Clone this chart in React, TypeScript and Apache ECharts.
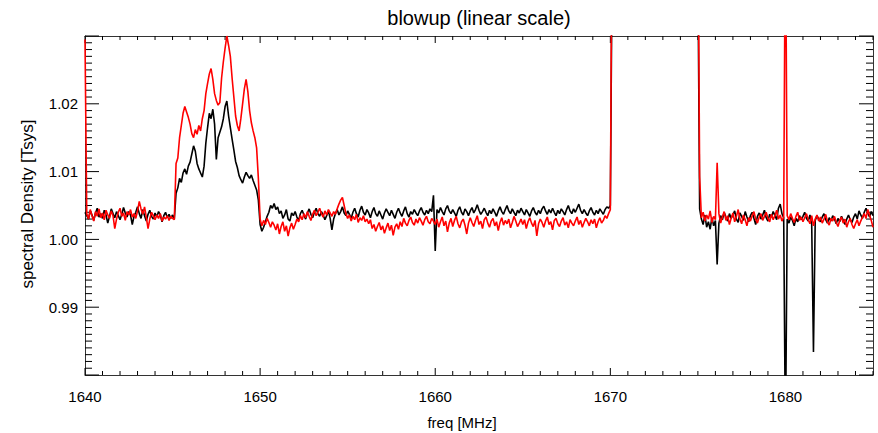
import React, { useEffect, useRef } from "react";
import * as echarts from "echarts";

// Channel grid (MHz)
const chanWidth = 0.1;
const segAStart = 1640.0; // 1640.0 .. 1670.1
const segBStart = 1675.0; // 1675.0 .. 1685.0
const gapFreq = 1672.5;

const xMin = 1640;
const xMax = 1685;
const yMin = 0.98;
const yMax = 1.03;
const xTickLabels = [1640, 1650, 1660, 1670, 1680];
const yTickLabels = [0.99, 1.0, 1.01, 1.02];

// black spectrum, segment A (rows = 1 MHz)
const blackA = [
  1.0040, 1.0035, 1.0030, 1.0042, 1.0036, 1.0028, 1.0039, 1.0046, 1.0033, 1.0038,
  1.0031, 1.0043, 1.0036, 1.0024, 1.0034, 1.0045, 1.0038, 1.0032, 1.0041, 1.0035,
  1.0029, 1.0037, 1.0047, 1.0039, 1.0033, 1.0041, 1.0036, 1.0022, 1.0034, 1.0040,
  1.0048, 1.0038, 1.0031, 1.0044, 1.0035, 1.0027, 1.0037, 1.0043, 1.0034, 1.0030,
  1.0039, 1.0033, 1.0041, 1.0036, 1.0026, 1.0035, 1.0040, 1.0032, 1.0037, 1.0031,
  1.0036, 1.0030, 1.0068, 1.0076, 1.0090, 1.0084, 1.0098, 1.0104, 1.0096, 1.0108,
  1.0114, 1.0126, 1.0138, 1.0130, 1.0112, 1.0104, 1.0098, 1.0092, 1.0108, 1.0142,
  1.0165, 1.0186, 1.0178, 1.0192, 1.0170, 1.0118, 1.0150, 1.0158, 1.0166, 1.0178,
  1.0196, 1.0204, 1.0182, 1.0165, 1.0148, 1.0132, 1.0115, 1.0106, 1.0094, 1.0088,
  1.0083, 1.0092, 1.0099, 1.0094, 1.0090, 1.0095, 1.0087, 1.0080, 1.0073, 1.0058,
  1.0022, 1.0012, 1.0018, 1.0026, 1.0034, 1.0040, 1.0050, 1.0046, 1.0053, 1.0044,
  1.0048, 1.0038, 1.0042, 1.0031, 1.0036, 1.0044, 1.0030, 1.0027, 1.0039, 1.0035,
  1.0041, 1.0033, 1.0028, 1.0038, 1.0043, 1.0036, 1.0030, 1.0039, 1.0045, 1.0037,
  1.0032, 1.0040, 1.0046, 1.0038, 1.0034, 1.0041, 1.0036, 1.0029, 1.0035, 1.0042,
  1.0031, 1.0014, 1.0030, 1.0038, 1.0044, 1.0036, 1.0041, 1.0048, 1.0039, 1.0035,
  1.0042, 1.0037, 1.0031, 1.0040, 1.0046, 1.0038, 1.0033, 1.0043, 1.0049, 1.0040,
  1.0036, 1.0044, 1.0039, 1.0032, 1.0041, 1.0047, 1.0038, 1.0034, 1.0042, 1.0036,
  1.0030, 1.0039, 1.0045, 1.0040, 1.0035, 1.0043, 1.0037, 1.0031, 1.0040, 1.0046,
  1.0039, 1.0034, 1.0042, 1.0048, 1.0038, 1.0033, 1.0041, 1.0037, 1.0044, 1.0039,
  1.0035, 1.0042, 1.0047, 1.0040, 1.0036, 1.0043, 1.0038, 1.0045, 1.0041, 1.0065,
  0.9983, 1.0044, 1.0039, 1.0047, 1.0041, 1.0036, 1.0045, 1.0050, 1.0042, 1.0038,
  1.0044, 1.0039, 1.0034, 1.0043, 1.0048, 1.0040, 1.0036, 1.0045, 1.0041, 1.0035,
  1.0042, 1.0047, 1.0039, 1.0044, 1.0051, 1.0043, 1.0037, 1.0041, 1.0046, 1.0040,
  1.0035, 1.0043, 1.0038, 1.0045, 1.0040, 1.0034, 1.0042, 1.0048, 1.0041, 1.0037,
  1.0044, 1.0050, 1.0042, 1.0038, 1.0045, 1.0040, 1.0035, 1.0043, 1.0039, 1.0046,
  1.0041, 1.0036, 1.0044, 1.0039, 1.0034, 1.0042, 1.0047, 1.0040, 1.0036, 1.0043,
  1.0038, 1.0045, 1.0049, 1.0042, 1.0037, 1.0044, 1.0039, 1.0046, 1.0040, 1.0035,
  1.0043, 1.0038, 1.0045, 1.0041, 1.0036, 1.0044, 1.0050, 1.0042, 1.0038, 1.0045,
  1.0040, 1.0046, 1.0052, 1.0043, 1.0038, 1.0044, 1.0039, 1.0035, 1.0042, 1.0047,
  1.0040, 1.0036, 1.0043, 1.0038, 1.0045, 1.0041, 1.0037, 1.0044, 1.0048, 1.0046,
  1.0050, 1.0400,
];

// red spectrum, segment A
const redA = [
  1.0295, 1.0038, 1.0030, 1.0044, 1.0035, 1.0027, 1.0041, 1.0034, 1.0045, 1.0032,
  1.0039, 1.0029, 1.0043, 1.0036, 1.0031, 1.0042, 1.0035, 1.0016, 1.0030, 1.0040,
  1.0046, 1.0034, 1.0039, 1.0028, 1.0041, 1.0036, 1.0044, 1.0033, 1.0038, 1.0031,
  1.0042, 1.0056, 1.0045, 1.0037, 1.0048, 1.0033, 1.0016, 1.0030, 1.0040, 1.0035,
  1.0029, 1.0036, 1.0031, 1.0038, 1.0027, 1.0033, 1.0030, 1.0035, 1.0028, 1.0034,
  1.0031, 1.0029, 1.0112, 1.0120, 1.0150, 1.0168, 1.0186, 1.0196, 1.0188, 1.0180,
  1.0170, 1.0156, 1.0150, 1.0162, 1.0155, 1.0168, 1.0160, 1.0178, 1.0190, 1.0215,
  1.0230, 1.0244, 1.0252, 1.0236, 1.0215, 1.0205, 1.0198, 1.0202, 1.0238, 1.0262,
  1.0282, 1.0300, 1.0286, 1.0270, 1.0238, 1.0210, 1.0182, 1.0168, 1.0160, 1.0178,
  1.0200, 1.0222, 1.0236, 1.0218, 1.0190, 1.0172, 1.0160, 1.0150, 1.0135, 1.0090,
  1.0030, 1.0020, 1.0028, 1.0022, 1.0031, 1.0025, 1.0018, 1.0026, 1.0021, 1.0014,
  1.0023, 1.0008, 1.0019, 1.0026, 1.0012, 1.0020, 1.0005, 1.0017, 1.0024, 1.0015,
  1.0022, 1.0030, 1.0026, 1.0035, 1.0029, 1.0038, 1.0032, 1.0041, 1.0034, 1.0028,
  1.0037, 1.0043, 1.0035, 1.0040, 1.0046, 1.0038, 1.0033, 1.0042, 1.0036, 1.0044,
  1.0039, 1.0034, 1.0041, 1.0037, 1.0045, 1.0052, 1.0058, 1.0062, 1.0050, 1.0038,
  1.0031, 1.0036, 1.0027, 1.0034, 1.0029, 1.0037, 1.0025, 1.0032, 1.0028, 1.0035,
  1.0026, 1.0030, 1.0023, 1.0029, 1.0016, 1.0022, 1.0012, 1.0019, 1.0025, 1.0014,
  1.0020, 1.0009, 1.0017, 1.0024, 1.0013, 1.0021, 1.0006, 1.0018, 1.0023, 1.0015,
  1.0026, 1.0019, 1.0031, 1.0024, 1.0020, 1.0028, 1.0033, 1.0025, 1.0021, 1.0030,
  1.0024, 1.0032, 1.0027, 1.0021, 1.0029, 1.0034, 1.0026, 1.0023, 1.0031, 1.0027,
  1.0022, 1.0030, 1.0018, 1.0026, 1.0033, 1.0020, 1.0027, 1.0011, 1.0024, 1.0031,
  1.0019, 1.0028, 1.0034, 1.0023, 1.0017, 1.0026, 1.0030, 1.0021, 1.0008, 1.0024,
  1.0032, 1.0025, 1.0019, 1.0028, 1.0035, 1.0022, 1.0027, 1.0016, 1.0029, 1.0033,
  1.0024, 1.0018, 1.0027, 1.0031, 1.0020, 1.0026, 1.0013, 1.0025, 1.0032, 1.0021,
  1.0028, 1.0023, 1.0030, 1.0017, 1.0025, 1.0034, 1.0027, 1.0019, 1.0024, 1.0030,
  1.0022, 1.0029, 1.0016, 1.0026, 1.0032, 1.0024, 1.0019, 1.0028, 1.0005, 1.0023,
  1.0030, 1.0025, 1.0018, 1.0027, 1.0033, 1.0022, 1.0026, 1.0014, 1.0028, 1.0031,
  1.0023, 1.0019, 1.0027, 1.0032, 1.0021, 1.0026, 1.0017, 1.0029, 1.0024, 1.0020,
  1.0027, 1.0033, 1.0022, 1.0028, 1.0018, 1.0025, 1.0031, 1.0026, 1.0020, 1.0029,
  1.0023, 1.0030, 1.0017, 1.0026, 1.0032, 1.0024, 1.0028, 1.0035, 1.0031, 1.0038,
  1.0044, 1.0500,
];

// black spectrum, segment B
const blackB = [
  1.0400, 1.0045, 1.0030, 1.0022, 1.0036, 1.0018, 1.0026, 1.0015, 1.0032, 1.0020,
  1.0028, 0.9963, 1.0024, 1.0035, 1.0029, 1.0040, 1.0033, 1.0027, 1.0038, 1.0031,
  1.0036, 1.0042, 1.0030, 1.0025, 1.0039, 1.0034, 1.0028, 1.0041, 1.0033, 1.0026,
  1.0035, 1.0040, 1.0031, 1.0022, 1.0034, 1.0039, 1.0030, 1.0036, 1.0043, 1.0032,
  1.0027, 1.0037, 1.0033, 1.0041, 1.0035, 1.0029, 1.0046, 1.0052, 1.0038, 1.0032,
  0.9700, 1.0030, 1.0024, 1.0033, 1.0028, 1.0020, 1.0031, 1.0026, 1.0035, 1.0029,
  1.0034, 1.0040, 1.0031, 1.0027, 1.0036, 1.0022, 0.9834, 1.0028, 1.0035, 1.0030,
  1.0026, 1.0033, 1.0038, 1.0029, 1.0024, 1.0032, 1.0027, 1.0035, 1.0030, 1.0023,
  1.0031, 1.0026, 1.0034, 1.0028, 1.0022, 1.0030, 1.0036, 1.0029, 1.0025, 1.0033,
  1.0038, 1.0030, 1.0042, 1.0036, 1.0031, 1.0040, 1.0046, 1.0039, 1.0033, 1.0041,
  1.0035,
];

// red spectrum, segment B
const redB = [
  1.0500, 1.0093, 1.0032, 1.0040, 1.0027, 1.0036, 1.0030, 1.0042, 1.0025, 1.0034,
  1.0029, 1.0113, 1.0038, 1.0024, 1.0033, 1.0041, 1.0028, 1.0035, 1.0022, 1.0031,
  1.0039, 1.0026, 1.0034, 1.0044, 1.0030, 1.0023, 1.0036, 1.0029, 1.0020, 1.0032,
  1.0027, 1.0035, 1.0041, 1.0030, 1.0024, 1.0033, 1.0038, 1.0028, 1.0034, 1.0040,
  1.0031, 1.0026, 1.0037, 1.0029, 1.0035, 1.0043, 1.0030, 1.0036, 1.0027, 1.0033,
  1.0500, 1.0035, 1.0029, 1.0038, 1.0031, 1.0025, 1.0034, 1.0040, 1.0028, 1.0033,
  1.0026, 1.0032, 1.0038, 1.0029, 1.0023, 1.0035, 1.0020, 1.0030, 1.0036, 1.0027,
  1.0033, 1.0024, 1.0030, 1.0037, 1.0026, 1.0021, 1.0031, 1.0027, 1.0034, 1.0025,
  1.0019, 1.0028, 1.0033, 1.0024, 1.0030, 1.0018, 1.0026, 1.0031, 1.0022, 1.0016,
  1.0023, 1.0029, 1.0020, 1.0027, 1.0033, 1.0038, 1.0031, 1.0044, 1.0036, 1.0028,
  1.0018,
];

function buildSeries(a: number[], b: number[]) {
  const d: any[] = [];
  a.forEach((v, i) => d.push([+(segAStart + i * chanWidth).toFixed(1), v]));
  d.push([gapFreq, null]);
  b.forEach((v, i) => d.push([+(segBStart + i * chanWidth).toFixed(1), v]));
  return d;
}

// tick positions (1 MHz minor, 10 MHz major; 0.001 minor, 0.01 major)
const xTickValues: number[] = [];
for (let f = xMin; f <= xMax; f += 1) xTickValues.push(f);
const yTickValues: number[] = [];
for (let k = 0; k <= 50; k++) yTickValues.push(+(yMin + k * 0.001).toFixed(3));

const FONT = "'Liberation Sans', Arial, Helvetica, sans-serif";
const AX = "#000";

export default function App() {
  const ref = useRef<HTMLDivElement>(null);
  useEffect(() => {
    if (!ref.current) return;
    const chart = echarts.init(ref.current, null, { renderer: "svg" });
    const axLine = { show: true, lineStyle: { color: "#333", width: 1 } };
    const tickStyle = { stroke: AX, lineWidth: 1 };

    const xTickSeries = {
      type: "custom",
      name: "xticks",
      xAxisIndex: 0,
      yAxisIndex: 0,
      clip: false,
      silent: true,
      data: xTickValues.map((v) => [v, yMin]),
      renderItem: (_p: any, api: any) => {
        const v = api.value(0);
        const major = Math.round(v) % 10 === 0;
        const len = major ? 7 : 4;
        const b = api.coord([v, yMin]);
        const t = api.coord([v, yMax]);
        return {
          type: "group",
          children: [
            { type: "line", shape: { x1: b[0], y1: b[1], x2: b[0], y2: b[1] - len }, style: tickStyle },
            { type: "line", shape: { x1: t[0], y1: t[1], x2: t[0], y2: t[1] + len }, style: tickStyle },
          ],
        };
      },
    };
    const yTickSeries = {
      type: "custom",
      name: "yticks",
      xAxisIndex: 0,
      yAxisIndex: 0,
      clip: false,
      silent: true,
      data: yTickValues.map((v) => [xMin, v]),
      renderItem: (_p: any, api: any) => {
        const v = api.value(1);
        const major = Math.round(v * 1000) % 10 === 0;
        const len = major ? 14 : 7;
        const l = api.coord([xMin, v]);
        const r = api.coord([xMax, v]);
        return {
          type: "group",
          children: [
            { type: "line", shape: { x1: l[0], y1: l[1], x2: l[0] + len, y2: l[1] }, style: tickStyle },
            { type: "line", shape: { x1: r[0], y1: r[1], x2: r[0] - len, y2: r[1] }, style: tickStyle },
          ],
        };
      },
    };

    chart.setOption({
      animation: false,
      backgroundColor: "#fff",
      grid: { left: 85, right: 5, top: 36, bottom: 58, containLabel: false },
      xAxis: [
        {
          type: "value",
          min: xMin,
          max: xMax,
          interval: 10,
          position: "bottom",
          splitLine: { show: false },
          axisLine: axLine,
          axisTick: { show: false },
          axisLabel: {
            show: true,
            margin: 14,
            showMaxLabel: false,
            color: "#000",
            fontSize: 15,
            fontFamily: FONT,
            formatter: (v: number) => (xTickLabels.includes(v) ? String(v) : ""),
          },
        },
        {
          type: "value",
          min: xMin,
          max: xMax,
          interval: 10,
          position: "top",
          splitLine: { show: false },
          axisLine: axLine,
          axisTick: { show: false },
          axisLabel: { show: false },
        },
      ],
      yAxis: [
        {
          type: "value",
          min: yMin,
          max: yMax,
          interval: 0.01,
          position: "left",
          splitLine: { show: false },
          axisLine: axLine,
          axisTick: { show: false },
          axisLabel: {
            show: true,
            margin: 7,
            showMinLabel: false,
            showMaxLabel: false,
            color: "#000",
            fontSize: 15,
            fontFamily: FONT,
            formatter: (v: number) => {
              const s = v.toFixed(2);
              return yTickLabels.some((t) => t.toFixed(2) === s) ? s : "";
            },
          },
        },
        {
          type: "value",
          min: yMin,
          max: yMax,
          interval: 0.01,
          position: "right",
          splitLine: { show: false },
          axisLine: axLine,
          axisTick: { show: false },
          axisLabel: { show: false },
        },
      ],
      graphic: [
        {
          type: "text",
          x: 479,
          y: 18,
          style: {
            text: "blowup (linear scale)",
            fill: "#000",
            font: `20px ${FONT}`,
            textAlign: "center",
            textVerticalAlign: "middle",
          },
        },
        {
          type: "text",
          x: 462,
          y: 422,
          style: {
            text: "freq [MHz]",
            fill: "#000",
            font: `15px ${FONT}`,
            textAlign: "center",
            textVerticalAlign: "middle",
          },
        },
        {
          type: "text",
          x: 27,
          y: 204,
          rotation: Math.PI / 2,
          style: {
            text: "spectral Density [Tsys]",
            fill: "#000",
            font: `17px ${FONT}`,
            textAlign: "center",
            textVerticalAlign: "middle",
          },
        },
      ],
      series: [
        xTickSeries,
        yTickSeries,
        {
          type: "line",
          name: "black",
          xAxisIndex: 0,
          yAxisIndex: 0,
          data: buildSeries(blackA, blackB),
          showSymbol: false,
          symbol: "none",
          connectNulls: false,
          clip: true,
          lineStyle: { color: "#000", width: 1.6 },
          itemStyle: { color: "#000" },
        },
        {
          type: "line",
          name: "red",
          xAxisIndex: 0,
          yAxisIndex: 0,
          data: buildSeries(redA, redB),
          showSymbol: false,
          symbol: "none",
          connectNulls: false,
          clip: true,
          lineStyle: { color: "#ff0000", width: 1.6 },
          itemStyle: { color: "#ff0000" },
        },
      ],
    });
    return () => chart.dispose();
  }, []);
  return (
    <div
      ref={ref}
      style={{ position: "fixed", left: 0, top: 0, width: 878, height: 433, background: "#fff" }}
    />
  );
}
